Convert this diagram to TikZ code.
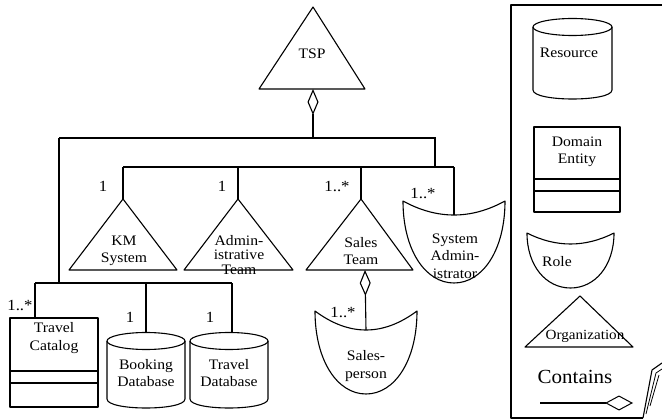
\documentclass[tikz,border=0pt]{standalone}
\usepackage{fontspec}
\setmainfont{Liberation Serif}
\newfontfamily\mainf{Liberation Serif}[FakeStretch=1.08]
\newfontfamily\plainf{Liberation Serif}[FakeStretch=1.05]
\usetikzlibrary{arrows.meta}
\newcommand\fs{\mainf\fontsize{14.5}{17.5}\selectfont}
\newcommand\rolesh[5]{%
  \draw[shp] (#1,#3) .. controls ({#1+(#2-#1)/3},{#3+4/3*(#4-#3)}) and ({#2-(#2-#1)/3},{#3+4/3*(#4-#3)}) .. (#2,#3)
    .. controls (#2,{#3+0.6*(#5-#3)}) and ({#2-0.22*(#2-#1)},#5) .. ({(#1+#2)/2},#5)
    .. controls ({#1+0.22*(#2-#1)},#5) and (#1,{#3+0.6*(#5-#3)}) .. cycle;}
\newcommand\cylsh[4]{%
  \draw[shp] (#1,#3) -- (#1,#4) .. controls (#1,{#4+12}) and (#2,{#4+12}) .. (#2,#4) -- (#2,#3);
  \draw[shp] ({(#1+#2)/2},#3) ellipse [x radius={(#2-#1)/2}, y radius=8.5];}
\newcommand\orgsh[4]{%
  \draw[shp] (#1,#2) -- (#3,270) -- (#4,270) -- cycle;}
\begin{document}
\begin{tikzpicture}[x=1pt,y=-1pt,
  shp/.style={line width=1.1pt, line join=round},
  conn/.style={line width=1.1pt},
  agg/.style={conn,-{Diamond[open,length=26pt,width=11pt,line width=1.1pt]}},
  lbl/.style={font=\fs, inner sep=0pt, align=center},
  mult/.style={font=\mainf\fontsize{15.5}{17}\selectfont, inner sep=0pt}]
\useasboundingbox (0,0) rectangle (662,420);

% ---------- shapes ----------
% TSP
\draw[shp] (313,7) -- (259,89) -- (365,89) -- cycle;
\node[lbl] (tsp) at (312,54) {TSP};
\coordinate (tspb) at (313,89);
% organisations
\orgsh{123}{199}{69}{177}
\node[lbl] (km) at (124,251) {KM\\System};
\coordinate (kmt) at (123,199);
\orgsh{238}{199}{184}{293}
\node[lbl, font=\mainf\fontsize{14.5}{14.5}\selectfont] (adm) at (239,255) {Admin-\\istrative\\Team};
\coordinate (admt) at (238,199);
\orgsh{361}{199}{306}{413}
\node[lbl] (st) at (361,251) {Sales\\Team};
\coordinate (stt) at (361,199);
\coordinate (stb) at (365,270);
% roles
\rolesh{403}{505}{201}{215}{283}
\node[lbl] (sa) at (455,256) {System\\Admin-\\istrator};
\coordinate (sat) at (454,215);
\rolesh{315}{417}{311}{330}{394}
\node[lbl] (sp) at (366,366) {Sales-\\person};
\coordinate (spt) at (366,330);
% travel catalog
\draw[shp] (10,318) rectangle (98,407);
\draw[shp] (10,371) -- (98,371) (10,383) -- (98,383);
\node[lbl] (tc) at (54,338) {Travel\\Catalog};
\coordinate (tct) at (35,318);
% databases
\cylsh{107}{185}{341}{399}
\node[lbl] (bd) at (146,373) {Booking\\Database};
\coordinate (bdt) at (146,332.5);
\cylsh{190}{268}{341}{399}
\node[lbl] (td) at (229,373) {Travel\\Database};
\coordinate (tdt) at (232,332.8);

% ---------- connectors ----------
\coordinate (j0) at (313,138);
\coordinate (jl) at (59,138);
\coordinate (jr) at (435,138);
\coordinate (j1) at (435,167);
\coordinate (h1l) at (123,167);
\coordinate (h1r) at (454,167);
\coordinate (j2) at (59,283);
\coordinate (h2l) at (35,283);
\coordinate (h2r) at (232,283);
\draw[agg] (j0) -- (tspb);
\draw[conn] (jl) -- (jr) -- (j1);
\draw[conn] (h1l) -- (h1r);
\draw[conn] (h1l) -- (kmt);
\draw[conn] (admt |- h1l) -- (admt);
\draw[conn] (stt |- h1l) -- (stt);
\draw[conn] (h1r) -- (sat);
\draw[conn] (jl) -- (j2);
\draw[conn] (h2l) -- (h2r);
\draw[conn] (h2l) -- (tct);
\draw[conn] (bdt |- h2l) -- (bdt);
\draw[conn] (h2r) -- (tdt);
\draw[agg] (spt) -- (stb);

% multiplicities
\node[mult] (m1) at (103,186) {1};
\node[mult] (m2) at (222,186) {1};
\node[mult] (m3) at (337,186) {1..*};
\node[mult] (m4) at (423,193) {1..*};
\node[mult] (m5) at (20,305) {1..*};
\node[mult] (m6) at (130,317) {1};
\node[mult] (m7) at (210,317) {1};
\node[mult] (m8) at (343,312) {1..*};

% ---------- legend ----------
\draw[shp] (662,5) -- (511,5) -- (511,418) -- (643,418);
\draw[shp] (643,418) -- (652,370) -- (662,363);
\draw[line width=0.8pt] (646,414) -- (656,373) -- (662,369);
\draw[line width=0.8pt] (650,406) -- (659,375);
\cylsh{533}{612}{27}{90}
\node[lbl] (res) at (569,53) {Resource};
\draw[shp] (534,127) rectangle (620,212);
\draw[shp] (534,179) -- (620,179) (534,191) -- (620,191);
\node[lbl] (de) at (577,152) {Domain\\Entity};
\rolesh{527}{614}{233}{244}{288}
\node[lbl] (rl) at (557,262) {Role};
\draw[shp] (580,296) -- (525,347) -- (633,347) -- cycle;
\node[lbl, font=\mainf\fontsize{14}{14}\selectfont] (org) at (585,336) {Organization};
\node[lbl, font=\plainf\fontsize{20}{22}\selectfont] (ct) at (575,377) {Contains};
\coordinate (cl) at (540,403);
\coordinate (cr) at (633,403);
\draw[conn, -{Diamond[open,length=28pt,width=15pt,line width=1pt]}] (cl) -- (cr);
\end{tikzpicture}
\end{document}
